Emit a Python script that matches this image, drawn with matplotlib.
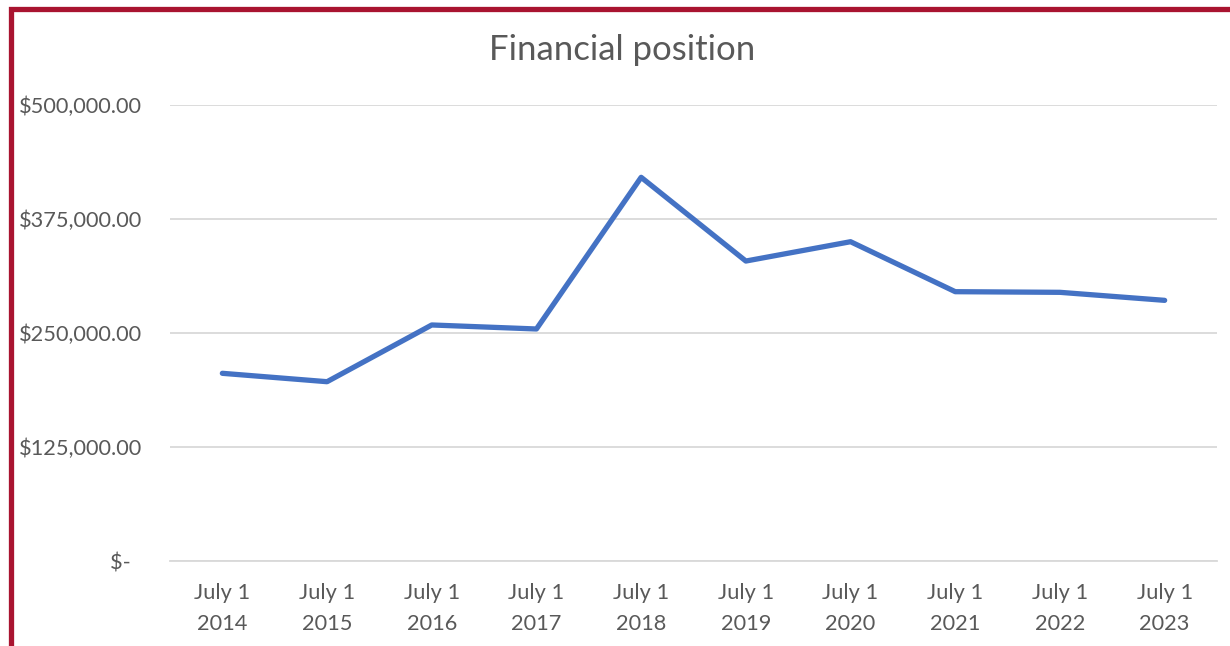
import matplotlib
matplotlib.use("Agg")
import matplotlib.pyplot as plt
from matplotlib.patches import Rectangle
from matplotlib.ticker import FixedLocator

categories = ["July 1\n2014", "July 1\n2015", "July 1\n2016", "July 1\n2017", "July 1\n2018",
              "July 1\n2019", "July 1\n2020", "July 1\n2021", "July 1\n2022", "July 1\n2023"]
values = [205800, 196600, 258800, 254400, 420700, 328900, 350100, 295300, 294600, 285800]
y_ticks = [0, 125000, 250000, 375000, 500000]
y_tick_labels = ["$-  ", "$125,000.00", "$250,000.00", "$375,000.00", "$500,000.00"]

plt.rcParams['font.family'] = ['Lato', 'DejaVu Sans']
W, H = 1230, 646
fig = plt.figure(figsize=(W / 100, H / 100), dpi=100)
fig.patch.set_facecolor("white")

ax = fig.add_axes([170 / W, (H - 561) / H, (1217 - 170) / W, 456 / H])
x = list(range(len(categories)))
ax.plot(x, values, color="#4472C4", linewidth=3.8, solid_capstyle="round",
        solid_joinstyle="round", zorder=3)

ax.set_xlim(-0.5, len(categories) - 0.5)
ax.set_ylim(0, 500000)
ax.yaxis.set_major_locator(FixedLocator(y_ticks))
ax.set_yticklabels(y_tick_labels)
ax.set_xticks(x)
ax.set_xticklabels(categories, linespacing=1.67)
ax.grid(axis="y", color="#D9D9D9", linewidth=1.3, zorder=0)
ax.set_axisbelow(True)
for s in ["top", "right", "left"]:
    ax.spines[s].set_visible(False)
ax.spines["bottom"].set_color("#D9D9D9")
ax.spines["bottom"].set_linewidth(1.3)
ax.tick_params(axis="both", length=0, colors="#595959", labelsize=15.7)
ax.tick_params(axis="y", pad=20)
ax.tick_params(axis="x", pad=16)

fig.text(622 / W, 1 - 50 / H, "Financial position", ha="center", va="center",
         fontsize=25, color="#595959")

# red frame (left and top)
fig.add_artist(Rectangle((10.5 / W, -0.1), 1.2, 1.1 - 9.5 / H, transform=fig.transFigure,
                         fill=False, edgecolor="#A91430", linewidth=3.8))

fig.savefig("out.png", dpi=100)
